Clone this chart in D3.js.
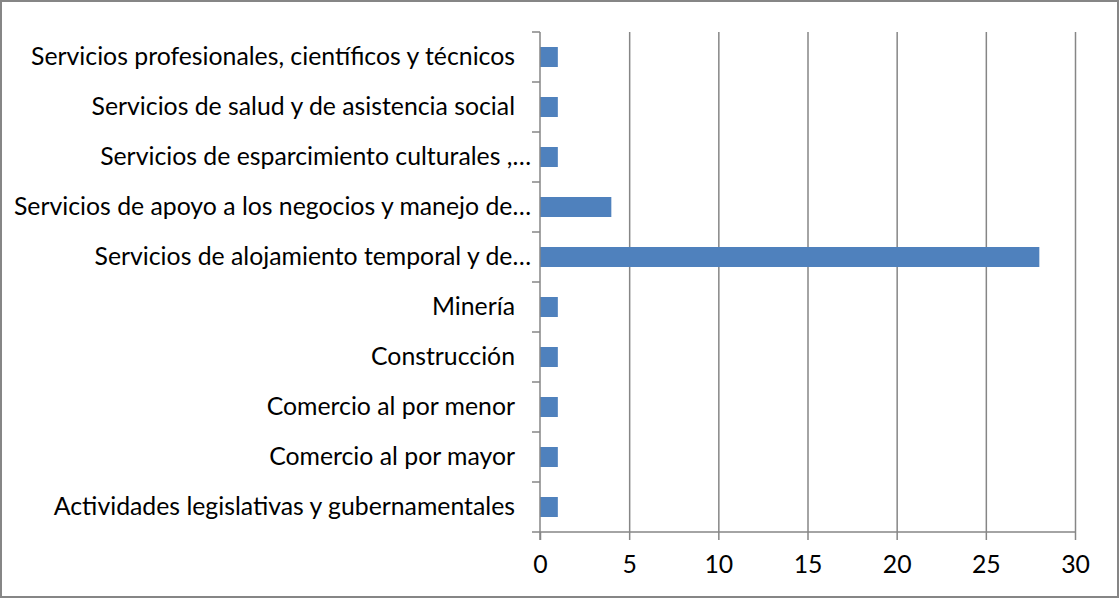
<!DOCTYPE html>
<html>
<head>
<meta charset="utf-8">
<script src="https://cdn.jsdelivr.net/npm/d3@7"></script>
<style>
  body { margin: 0; background: #fff; }
  text { font-family: Lato, "Open Sans", sans-serif; fill: #000; }
</style>
</head>
<body>
<div id="chart"></div>
<script>
// categories, bottom to top as in the source sheet
var categories = [
    "Actividades legislativas y gubernamentales",
    "Comercio al por mayor",
    "Comercio al por menor",
    "Construcción",
    "Minería",
    "Servicios de alojamiento temporal y de…",
    "Servicios de apoyo a los negocios y manejo de…",
    "Servicios de esparcimiento culturales ,…",
    "Servicios de salud y de asistencia social",
    "Servicios profesionales, científicos y técnicos"
];
var values = [1, 1, 1, 1, 1, 28, 4, 1, 1, 1];
var xTicks = [0, 5, 10, 15, 20, 25, 30];

var w = 1119, h = 598;
var plotLeft = 540, plotRight = 1075, plotTop = 32, plotBottom = 532;
var barColor = "#4F81BD";
var gridColor = "#868686";
var fontSize = "24.8px";

var svg = d3.select("#chart").append("svg").attr("width", w).attr("height", h);

// outer chart border
svg.append("rect")
    .attr("x", 1).attr("y", 1)
    .attr("width", w - 2).attr("height", h - 2)
    .attr("fill", "white")
    .attr("stroke", gridColor)
    .attr("stroke-width", 2);

var x = d3.scaleLinear().domain([0, 30]).range([plotLeft, plotRight]);
var y = d3.scaleBand().domain(categories.slice().reverse()).range([plotTop, plotBottom])
    .paddingInner(0.6).paddingOuter(0.3);
var yTicks = d3.scaleLinear().domain([0, categories.length]).range([plotTop, plotBottom]);

// vertical gridlines
svg.append("g").selectAll("line").data(xTicks.slice(1)).enter().append("line")
    .attr("x1", d => x(d) + 0.5).attr("x2", d => x(d) + 0.5)
    .attr("y1", plotTop).attr("y2", plotBottom)
    .attr("stroke", gridColor).attr("stroke-width", 1.5);

// bars
svg.append("g").selectAll("rect").data(categories).enter().append("rect")
    .attr("x", x(0))
    .attr("y", d => y(d))
    .attr("width", (d, i) => x(values[i]) - x(0))
    .attr("height", y.bandwidth())
    .attr("fill", barColor);

// x axis
var xAxis = svg.append("g")
    .attr("transform", "translate(0," + plotBottom + ")")
    .call(d3.axisBottom(x).tickValues(xTicks).tickSize(8));
xAxis.select(".domain").attr("stroke", gridColor).attr("stroke-width", 1.5)
    .attr("d", "M" + plotLeft + ",0H" + plotRight);
xAxis.selectAll(".tick line").attr("stroke", gridColor).attr("stroke-width", 1.5);
xAxis.selectAll(".tick text")
    .attr("y", 41).attr("dy", null)
    .attr("font-size", fontSize).attr("font-family", null);

// y axis line + ticks between categories
svg.append("line")
    .attr("x1", plotLeft).attr("x2", plotLeft).attr("y1", plotTop).attr("y2", plotBottom + 8)
    .attr("stroke", gridColor).attr("stroke-width", 1.5);
svg.append("g").selectAll("line").data(d3.range(categories.length + 1)).enter().append("line")
    .attr("x1", plotLeft - 8).attr("x2", plotLeft)
    .attr("y1", d => yTicks(d)).attr("y2", d => yTicks(d))
    .attr("stroke", gridColor).attr("stroke-width", 1.5);

// category labels (full labels carry a trailing space in the sheet, truncated ones do not)
svg.append("g").selectAll("text").data(categories).enter().append("text")
    .attr("x", d => d.endsWith("…") ? 531 : 515)
    .attr("y", d => y(d) + y.bandwidth() / 2 + 7.5)
    .attr("text-anchor", "end")
    .attr("font-size", fontSize)
    .text(d => d);
</script>
</body>
</html>
